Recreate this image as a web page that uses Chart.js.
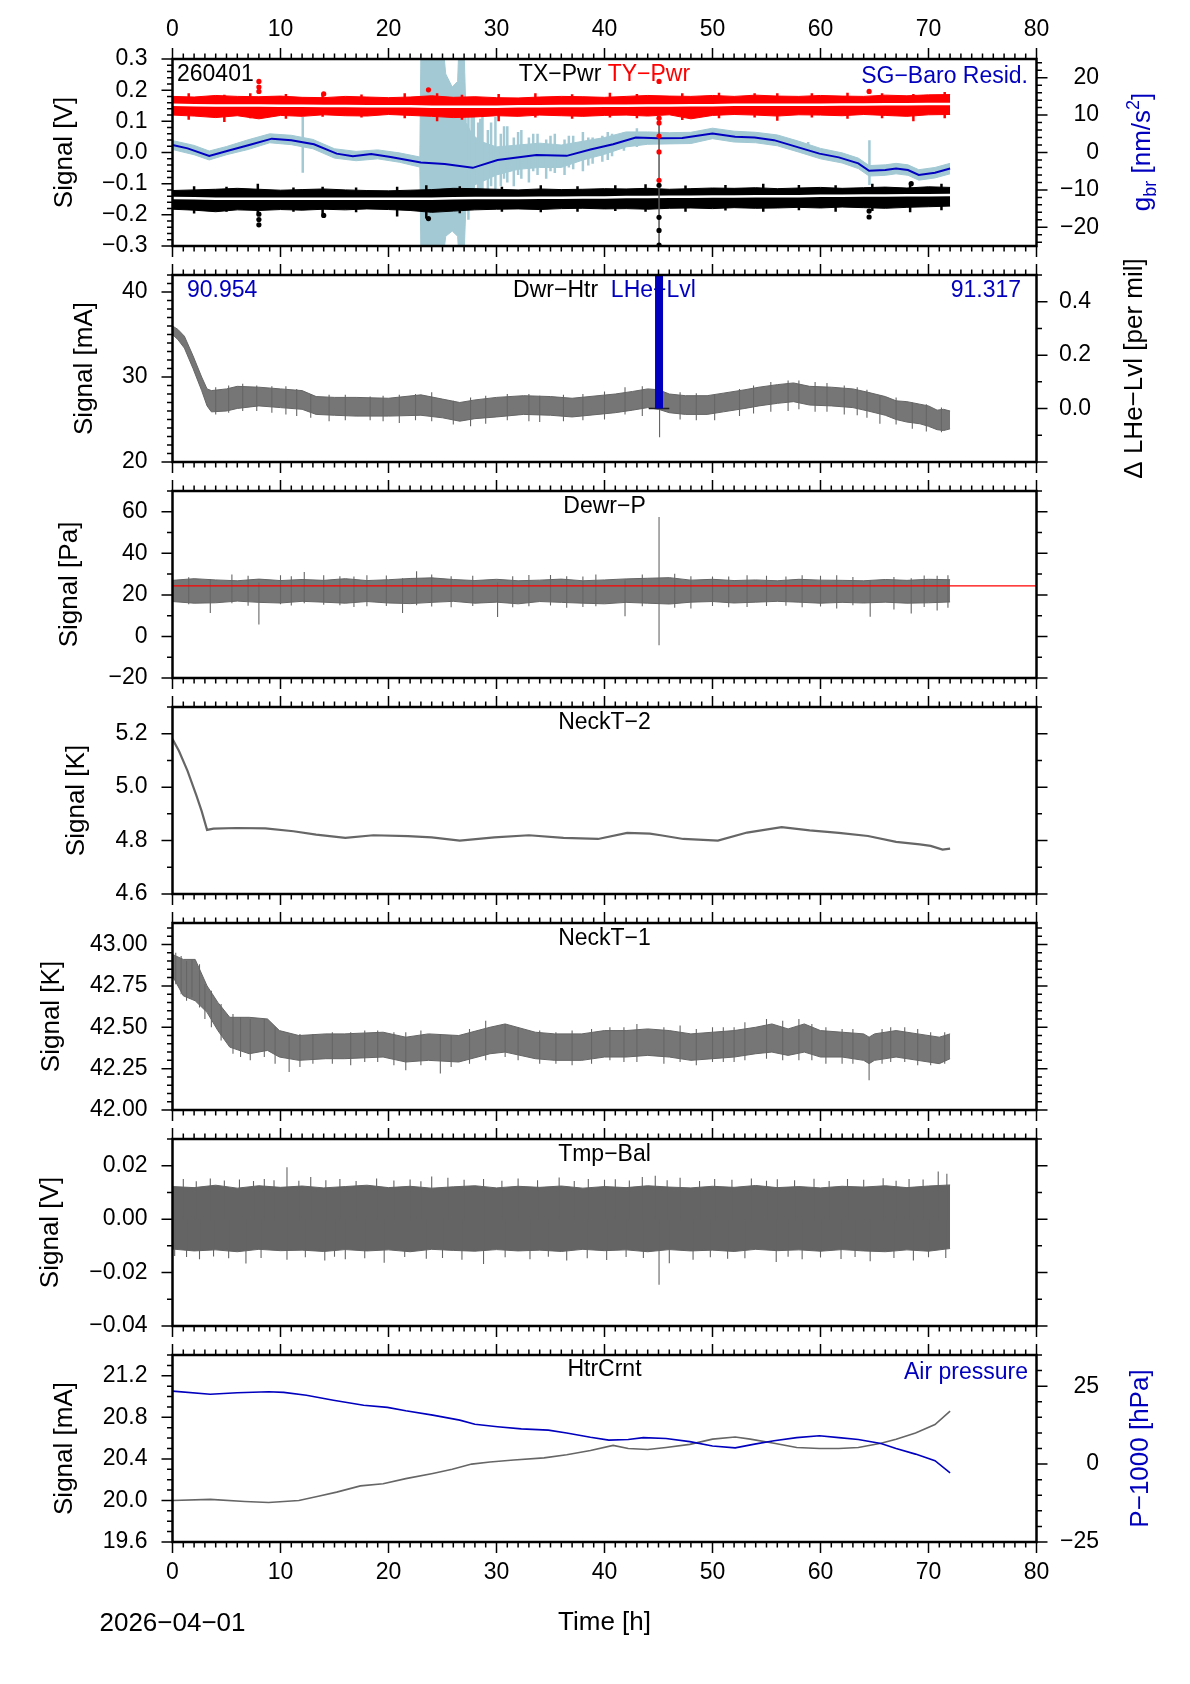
<!DOCTYPE html>
<html lang="en">
<head>
<meta charset="UTF-8">
<title>260401 sensor channels</title>
<script src="https://cdn.jsdelivr.net/npm/chart.js"></script>
<style>
  body { margin: 0; background: #fff; }
  #page { position: relative; width: 1190px; height: 1684px; background: #fff; }
  #page canvas { position: absolute; left: 0; }
</style>
</head>
<body>
<div id="page">
  <canvas id="p1" width="1190" height="286" style="top:0px"></canvas>
  <canvas id="p2" width="1190" height="267" style="top:235px"></canvas>
  <canvas id="p3" width="1190" height="267" style="top:451px"></canvas>
  <canvas id="p4" width="1190" height="267" style="top:667px"></canvas>
  <canvas id="p5" width="1190" height="267" style="top:883px"></canvas>
  <canvas id="p6" width="1190" height="267" style="top:1099px"></canvas>
  <canvas id="p7" width="1190" height="369" style="top:1315px"></canvas>
</div>
<script>
// ---- tick labels ----
const xTicks = [0, 10, 20, 30, 40, 50, 60, 70, 80];
const p1LeftTicks = [-0.3, -0.2, -0.1, 0, 0.1, 0.2, 0.3];
const p1RightTicks = [-20, -10, 0, 10, 20];
const p2LeftTicks = [20, 30, 40];
const p2RightTicks = [0, 0.2, 0.4];
const p3Ticks = [-20, 0, 20, 40, 60];
const p4Ticks = [4.6, 4.8, 5.0, 5.2];
const p5Ticks = [42.00, 42.25, 42.50, 42.75, 43.00];
const p6Ticks = [-0.04, -0.02, 0, 0.02];
const p7LeftTicks = [19.6, 20.0, 20.4, 20.8, 21.2];
const p7RightTicks = [-25, 0, 25];

// ---- panel 1: TX-Pwr / TY-Pwr [V], SG-Baro residual [nm/s2] ----
const p1T = [0,2,4,6,8,10,12,14,16,18,20,22,24,26,28,30,32,34,36,38,40,42,44,46,48,50,52,54,56,58,60,62,64,66,68,70,72];
const redHi = [0.180,0.178,0.183,0.180,0.179,0.181,0.177,0.176,0.180,0.178,0.176,0.178,0.182,0.177,0.179,0.176,0.175,0.178,0.180,0.179,0.177,0.180,0.183,0.181,0.180,0.183,0.180,0.184,0.181,0.180,0.183,0.181,0.180,0.184,0.182,0.185,0.186];
const redLo = [0.120,0.117,0.112,0.118,0.108,0.119,0.116,0.121,0.118,0.117,0.122,0.119,0.116,0.112,0.114,0.118,0.116,0.120,0.118,0.116,0.119,0.120,0.117,0.121,0.108,0.119,0.122,0.120,0.117,0.121,0.120,0.118,0.122,0.119,0.116,0.121,0.122];
const redMid = [0.153,0.152,0.151,0.151,0.151,0.150,0.150,0.149,0.149,0.148,0.148,0.148,0.147,0.147,0.147,0.147,0.148,0.148,0.149,0.149,0.150,0.150,0.151,0.151,0.152,0.152,0.153,0.153,0.153,0.153,0.153,0.154,0.154,0.155,0.155,0.156,0.156];
const blackHi = [-0.122,-0.120,-0.118,-0.115,-0.118,-0.121,-0.119,-0.117,-0.120,-0.122,-0.123,-0.121,-0.119,-0.115,-0.116,-0.118,-0.120,-0.117,-0.119,-0.118,-0.116,-0.117,-0.115,-0.118,-0.116,-0.114,-0.115,-0.113,-0.116,-0.114,-0.112,-0.115,-0.113,-0.111,-0.114,-0.110,-0.112];
const blackLo = [-0.182,-0.185,-0.190,-0.184,-0.186,-0.183,-0.185,-0.182,-0.184,-0.181,-0.183,-0.186,-0.192,-0.188,-0.184,-0.182,-0.181,-0.183,-0.180,-0.179,-0.181,-0.180,-0.182,-0.179,-0.178,-0.180,-0.177,-0.179,-0.178,-0.176,-0.178,-0.175,-0.177,-0.179,-0.176,-0.174,-0.172];
const blackMid = [-0.146,-0.147,-0.148,-0.148,-0.148,-0.148,-0.148,-0.148,-0.148,-0.148,-0.148,-0.148,-0.148,-0.147,-0.146,-0.146,-0.146,-0.145,-0.145,-0.144,-0.144,-0.143,-0.143,-0.142,-0.142,-0.141,-0.141,-0.140,-0.140,-0.140,-0.139,-0.139,-0.138,-0.138,-0.137,-0.137,-0.136];
const redSpikeT = [1.5,4.8,7.2,10.5,13.9,17.5,21.5,24.5,26.8,30.2,33.6,37.0,40.5,43.0,47.2,50.6,53.9,56.0,59.2,62.5,65.7,68.6,71.5];
const redSpikeLo = [0.105,0.098,0.110,0.108,0.115,0.112,0.110,0.100,0.105,0.100,0.112,0.108,0.112,0.110,0.104,0.110,0.112,0.102,0.112,0.108,0.110,0.100,0.110];
const redSpikeHi = [0.190,0.185,0.190,0.188,0.190,0.186,0.190,0.190,0.185,0.188,0.190,0.187,0.192,0.188,0.190,0.192,0.190,0.190,0.190,0.192,0.190,0.188,0.194];
const blackSpikeT = [2.0,5.0,7.9,11.2,13.9,17.0,20.8,23.5,26.6,30.5,34.1,37.5,41.0,43.8,47.5,51.2,54.7,58.0,61.4,64.8,68.3,71.2];
const blackSpikeLo = [-0.196,-0.190,-0.195,-0.190,-0.200,-0.192,-0.205,-0.212,-0.195,-0.190,-0.192,-0.190,-0.188,-0.190,-0.190,-0.186,-0.190,-0.185,-0.190,-0.188,-0.192,-0.185];
const blackSpikeHi = [-0.108,-0.110,-0.100,-0.112,-0.110,-0.112,-0.110,-0.105,-0.108,-0.110,-0.105,-0.108,-0.105,-0.102,-0.106,-0.104,-0.100,-0.104,-0.105,-0.100,-0.098,-0.100];
const redDotT = [8.0, 8.0, 8.0, 14.0, 23.7, 45.05, 45.05, 45.05, 45.05, 45.05, 45.05, 64.5];
const redDotV = [0.228, 0.210, 0.196, 0.188, 0.201, 0.228, 0.110, 0.095, 0.053, 0.002, -0.089, 0.196];
const blackDotT = [8.0, 8.0, 8.0, 14.0, 23.7, 45.05, 45.05, 45.05, 45.05, 64.5, 64.5, 68.4];
const blackDotV = [-0.198, -0.215, -0.232, -0.202, -0.212, -0.105, -0.208, -0.250, -0.297, -0.188, -0.207, -0.100];
const p1MarkT = [45.05];
const p1MarkLo = [-0.30];
const p1MarkHi = [0.115];
const sgT = [0,1.4,3.4,5.3,7.1,9.2,11,13.1,15.2,16.7,18.4,20.2,23,25.2,27.8,30.1,33.7,36.5,38.7,40.8,42.9,45,47.2,50,52.1,53.9,55.7,57.8,59.9,61.7,63.5,64.5,66,67,68.1,69.1,70.6,72];
const sgSmooth = [2.0,1.1,-0.9,0.6,2.0,3.7,3.3,2.2,-0.3,-1.0,-0.4,-1.2,-2.7,-3.1,-4.1,-2.0,-0.7,-0.9,0.8,2.2,4.0,3.8,3.9,5.1,4.2,4.0,3.3,1.5,-0.3,-1.3,-2.9,-4.9,-4.7,-4.3,-4.7,-6.0,-5.4,-4.3];
const sgRawT = [0,2,3.4,5,7,9,11,13,15,17,19,21,22.9,23.0,25.1,25.3,25.9,26.4,26.5,27.0,27.2,27.7,28.5,30,32,34,36,38,40,42,44,46,48,50,52,54,56,58,60,62,63.5,64.5,66,67,68.1,69.1,70.6,72];
const sgRawHi = [3.2,1.9,0.4,1.6,3.4,5.0,4.6,3.5,1.0,0.3,0.7,-0.1,-1.2,27,27,21,17.5,19,27,27,8,5,3,1.5,2,2.5,2,3,4,5.5,5.5,5.3,5.4,6.5,5.7,5.4,4.7,3.0,1.1,-0.1,-1.5,-3.5,-3.3,-2.9,-3.3,-4.6,-4.0,-2.9];
const sgRawLo = [0.8,-0.6,-2.0,-0.6,0.8,2.6,2.1,1.0,-1.5,-2.2,-1.7,-2.6,-3.9,-27,-27,-22.4,-21,-22.4,-27,-27,-12,-9,-8,-6,-4.5,-4,-4,-2,-0.5,1.5,2.2,2.3,2.4,3.7,2.8,2.6,1.8,0.1,-1.7,-2.8,-4.3,-6.3,-6.1,-5.7,-6.1,-7.4,-6.8,-5.7];
const sgSpikeT = [12.06,27.4,27.7,27.9,28.3,28.5,28.7,29.2,29.5,29.9,30.4,30.7,31.0,31.6,32.0,32.3,33.0,33.4,33.8,34.6,35.0,35.4,36.3,36.7,37.1,38.0,38.5,38.9,39.8,40.3,40.7,41.8,43.0,58.86,64.53];
const sgSpikeLo = [-5.4,-18,-15,-14,-13,-10,-12,-11,-9,-10,-9,-7,-8,-9,-6,-7,-8,-5,-6,-7,-5,-5.5,-6,-4,-4.5,-5,-3.5,-3,-2.5,-2,-1,0.5,1.5,-0.7,-8.7];
const sgSpikeHi = [9.5,12,10,14,8,9,10,6,8,9.5,5,7,7,4,5.5,6,4,5,5,3.5,4.5,5,3.5,4.5,4.5,5.5,4,4,4.5,5.5,5,5.5,6.5,2.8,3.3];

// ---- panel 2: Dwr-Htr [mA], LHe-Lvl [per mil] ----
const dwrT = [0,0.5,1.1,1.9,2.7,3.2,3.6,5,6,8,10,12,13.3,15,17,20,23,25,26.6,28,30,32.5,35,37,39.4,41,42.6,44,45,46,47.5,49.5,51,53,54.3,56,57.5,59,61,63,64.4,66,67,68,69.2,70,70.8,71.4,72];
const dwrHi = [36.0,35.6,34.8,32.5,30.0,28.6,28.4,28.6,28.9,28.8,28.6,28.4,27.7,27.6,27.6,27.5,27.9,27.4,27.0,27.3,27.6,27.8,27.7,27.5,27.8,28.0,28.3,28.6,28.5,28.0,27.8,27.8,28.1,28.5,28.8,29.1,29.3,28.9,28.8,28.6,28.2,27.7,27.2,27.1,26.8,26.6,26.1,26.2,26.0];
const dwrLo = [35.0,34.4,33.4,31.0,28.4,26.6,25.9,26.0,26.3,26.6,26.4,26.2,25.6,25.5,25.4,25.4,25.5,25.2,24.8,25.1,25.3,25.6,25.5,25.3,25.6,25.8,26.1,26.4,26.2,25.8,25.6,25.6,25.9,26.3,26.6,26.9,27.1,26.7,26.6,26.4,26.0,25.5,25.0,24.7,24.5,24.2,23.8,23.7,23.9];
const dwrSpikeT = [4.0,5.2,6.5,7.8,9.2,10.5,11.5,12.8,14.5,16.0,18.3,19.5,21.0,22.5,24.0,26.0,27.6,29.0,31.0,33.0,34.0,36.2,38.0,40.0,41.9,43.5,45.1,47.0,48.5,50.2,52.5,53.8,55.4,57.0,58.0,59.5,60.6,62.2,63.4,64.3,65.5,67.0,68.5,69.8,71.2];
const dwrSpikeLo = [25.6,25.8,26.0,26.0,25.8,25.6,25.4,25.2,24.8,24.9,24.9,24.8,24.6,24.9,24.8,24.4,24.2,24.5,24.9,24.8,24.7,24.8,24.9,25.0,25.6,25.4,22.9,25.0,24.9,24.9,25.4,25.7,25.9,26.0,26.2,25.9,25.9,25.6,25.5,25.2,24.5,24.4,23.9,23.6,23.5];
const dwrSpikeHi = [28.8,29.0,29.2,29.0,28.9,28.9,28.6,28.0,27.9,27.9,27.7,27.8,27.9,28.0,28.2,27.2,27.6,27.8,28.0,28.0,27.8,27.9,28.0,28.3,28.8,28.9,27.8,28.2,28.1,27.9,28.6,29.0,29.4,29.6,29.6,29.4,29.3,29.0,28.8,28.5,27.8,27.6,27.0,26.8,26.4];
const lheT = [45.05, 45.05];
const lheV = [0, 0.6];
const lheBaseT = [44.1, 46.0];
const lheBaseV = [0, 0];

// ---- panel 3: Dewr-P [Pa] ----
const dewrT = [0,2,4,6,8,10,12,14,16,18,20,22,24,26,28,30,32,34,36,38,40,42,44,46,48,50,52,54,56,58,60,62,64,66,68,70,72];
const dewrHi = [27.0,27.8,27.2,26.8,27.6,26.9,27.4,27.0,27.8,26.9,27.3,27.9,28.2,27.4,26.9,27.5,26.8,27.1,27.6,26.8,27.2,27.7,28.0,28.3,27.1,27.5,26.9,27.2,26.8,27.5,27.1,27.0,26.8,27.4,27.0,27.5,27.3];
const dewrLo = [16.8,16.0,16.2,17.0,16.4,16.1,16.9,16.5,16.0,16.8,16.1,15.8,16.4,16.9,16.0,16.5,15.7,16.8,16.4,16.0,15.7,16.4,16.0,15.6,16.5,16.8,16.1,16.5,16.9,16.5,16.0,16.4,16.1,16.5,16.0,16.2,16.6];
const dewrSpikeT = [1.5,3.5,5.5,7.0,8.0,10.0,11.0,12.2,14.0,15.5,16.8,18.0,19.8,21.3,22.6,24.0,25.8,27.8,30.1,31.5,33.0,35.0,36.5,38.0,39.2,41.9,43.5,45.05,46.5,48.0,50.0,51.5,53.2,55.0,56.8,58.3,60.0,61.5,63.0,64.6,66.8,68.4,69.6,70.8,71.8];
const dewrSpikeLo = [15.5,11.3,16.0,14.8,5.7,15.5,14.9,16.0,15.2,15.0,14.2,14.5,14.6,11.3,15.0,14.4,14.0,14.6,9.3,14.0,14.5,14.9,13.8,14.2,14.5,9.7,14.5,-4.2,13.8,13.5,14.6,14.0,14.2,14.6,14.8,14.0,14.4,13.5,15.0,9.5,13.0,11.0,14.2,12.5,13.8];
const dewrSpikeHi = [28.5,27.5,29.8,29.2,26.0,29.5,29.0,31.0,29.5,29.0,28.8,29.5,29.3,28.0,31.4,29.8,29.0,29.2,26.0,29.0,29.6,29.6,29.0,28.8,29.8,27.0,29.8,57.5,30.2,29.0,28.9,28.8,29.5,29.2,28.8,29.5,29.2,29.4,28.6,27.0,28.6,28.0,29.3,29.2,29.5];
const dewrRefT = [0, 80];
const dewrRefV = [24.3, 24.3];

// ---- panel 4: NeckT-2 [K] ----
const neckT2T = [0,0.6,1.4,2.2,2.7,3.2,3.8,5.9,8.6,11.2,13.3,16,18.6,21.8,24,26.6,29.8,33,36.2,39.4,42.1,44.2,45.2,47.3,50.5,53.2,56.4,59,61.7,64.4,67,69.2,70.2,71.3,72];
const neckT2V = [5.18,5.135,5.06,4.97,4.91,4.84,4.845,4.847,4.846,4.835,4.822,4.81,4.82,4.817,4.812,4.80,4.812,4.82,4.81,4.806,4.829,4.826,4.82,4.806,4.80,4.83,4.85,4.838,4.829,4.817,4.795,4.786,4.78,4.766,4.77];

// ---- panel 5: NeckT-1 [K] ----
const neckT1T = [0,1,2.1,3.2,4.2,5.3,7.1,8.8,9.9,11.7,14.2,15.9,19.5,21.6,23.7,26.5,29.4,30.8,33.6,35.4,37.9,40,42,44,46,48,50,52,54,55.5,57,58.5,60,62,64,64.5,65,67,69,71,72];
const neckT1Hi = [42.94,42.91,42.91,42.75,42.65,42.56,42.56,42.55,42.48,42.45,42.46,42.46,42.47,42.44,42.46,42.45,42.50,42.52,42.47,42.46,42.46,42.48,42.48,42.49,42.48,42.46,42.47,42.48,42.50,42.52,42.49,42.52,42.48,42.47,42.46,42.44,42.46,42.48,42.46,42.44,42.46];
const neckT1Lo = [42.81,42.69,42.66,42.59,42.48,42.38,42.34,42.36,42.32,42.30,42.31,42.31,42.32,42.29,42.30,42.29,42.34,42.35,42.31,42.30,42.30,42.32,42.32,42.33,42.32,42.30,42.31,42.32,42.34,42.35,42.33,42.35,42.32,42.32,42.30,42.28,42.30,42.32,42.30,42.28,42.31];
const neckT1SpikeT = [0.3,0.8,1.3,1.8,2.5,3.0,3.6,4.5,5.6,6.3,7.2,8.5,9.5,10.8,11.8,13.0,14.8,16.5,17.8,19.0,20.5,21.6,23.0,24.8,25.8,27.5,29.0,30.8,32.0,34.0,35.5,37.0,38.8,40.5,41.8,43.0,45.5,47.0,48.5,50.0,51.0,52.0,53.0,55.0,56.5,58.0,59.2,60.5,62.0,63.0,64.5,65.7,66.5,67.8,69.0,70.2,71.5];
const neckT1SpikeLo = [42.76,42.70,42.66,42.68,42.62,42.55,42.50,42.42,42.34,42.32,42.30,42.32,42.28,42.23,42.26,42.28,42.28,42.27,42.29,42.29,42.27,42.24,42.27,42.22,42.26,42.28,42.30,42.32,42.30,42.28,42.28,42.27,42.28,42.30,42.29,42.29,42.28,42.29,42.27,42.29,42.29,42.29,42.30,42.31,42.30,42.30,42.30,42.28,42.28,42.28,42.18,42.28,42.29,42.29,42.27,42.27,42.28];
const neckT1SpikeHi = [42.95,42.93,42.90,42.91,42.88,42.76,42.72,42.64,42.58,42.56,42.55,42.55,42.50,42.45,42.46,42.46,42.47,42.47,42.48,42.48,42.47,42.47,42.48,42.46,42.45,42.49,42.54,42.52,42.50,42.48,42.47,42.48,42.49,42.50,42.50,42.52,42.50,42.51,42.49,42.50,42.50,42.50,42.53,42.55,42.54,42.55,42.52,42.50,42.49,42.49,42.44,42.49,42.50,42.50,42.49,42.47,42.47];

// ---- panel 6: Tmp-Bal [V] ----
const tmpT = [0,2,4,6,8,10,12,14,16,18,20,22,24,26,28,30,32,34,36,38,40,42,44,46,48,50,52,54,56,58,60,62,64,66,68,70,72];
const tmpHi = [0.0122,0.0118,0.0127,0.0116,0.0125,0.0119,0.0124,0.0117,0.0122,0.0127,0.0118,0.0123,0.0116,0.0121,0.0125,0.0117,0.0123,0.0119,0.0124,0.0116,0.0122,0.0118,0.0125,0.0120,0.0117,0.0123,0.0119,0.0126,0.0118,0.0122,0.0117,0.0123,0.0120,0.0125,0.0118,0.0124,0.0128];
const tmpLo = [-0.0112,-0.0119,-0.0115,-0.0122,-0.0113,-0.0118,-0.0116,-0.0121,-0.0114,-0.0119,-0.0115,-0.0122,-0.0113,-0.0117,-0.0120,-0.0114,-0.0119,-0.0116,-0.0121,-0.0113,-0.0118,-0.0115,-0.0122,-0.0114,-0.0119,-0.0116,-0.0121,-0.0113,-0.0118,-0.0115,-0.0120,-0.0114,-0.0119,-0.0122,-0.0115,-0.0120,-0.0110];
const tmpUpT = [1.0,2.2,3.5,4.8,6.2,7.5,8.5,9.4,10.6,11.7,12.8,14.2,15.5,17.0,18.9,20.5,22.0,23.0,24.0,25.5,27.0,28.8,30.5,32.0,33.8,35.8,37.2,38.5,40.0,41.0,42.3,43.5,44.7,45.8,47.0,48.8,50.2,51.8,53.6,55.0,56.0,57.6,59.4,60.8,62.5,64.0,65.8,67.0,68.2,69.5,70.9,71.7];
const tmpUpV = [0.0150,0.0142,0.0152,0.0145,0.0148,0.0143,0.0150,0.0146,0.0194,0.0144,0.0158,0.0146,0.0150,0.0143,0.0152,0.0145,0.0148,0.0142,0.0160,0.0155,0.0147,0.0150,0.0144,0.0152,0.0146,0.0156,0.0143,0.0150,0.0147,0.0149,0.0145,0.0158,0.0162,0.0146,0.0155,0.0143,0.0150,0.0147,0.0152,0.0144,0.0149,0.0146,0.0151,0.0143,0.0150,0.0147,0.0153,0.0144,0.0150,0.0148,0.0178,0.0170];
const tmpDnT = [0.2,1.3,2.5,3.8,5.2,6.8,8.2,10.6,12.3,14.1,15.0,16.0,17.8,19.6,21.5,23.5,25.0,26.8,28.8,30.8,33.1,34.8,36.5,38.4,40.2,42.0,43.6,45.05,46.0,48.2,49.8,51.4,53.0,55.9,57.0,58.3,60.0,61.9,63.2,64.6,66.8,68.6,70.0,71.6];
const tmpDnV = [-0.0138,-0.0142,-0.0150,-0.0140,-0.0146,-0.0166,-0.0145,-0.0152,-0.0143,-0.0155,-0.0141,-0.0150,-0.0146,-0.0163,-0.0142,-0.0148,-0.0145,-0.0152,-0.0168,-0.0143,-0.0150,-0.0141,-0.0155,-0.0146,-0.0153,-0.0142,-0.0145,-0.0246,-0.0165,-0.0152,-0.0143,-0.0148,-0.0146,-0.0160,-0.0141,-0.0150,-0.0144,-0.0149,-0.0142,-0.0158,-0.0145,-0.0155,-0.0143,-0.0145];

// ---- panel 7: HtrCrnt [mA], air pressure P-1000 [hPa] ----
const htrT = [0,3.5,6.7,8.9,11.7,13.5,15.2,17.4,19.5,21.6,24.1,25.9,27.7,29.4,31.6,34.4,36.5,38.7,40.8,42.2,44,45.7,47.9,50,52.1,53.5,55.7,57.8,59.9,61.7,63.5,65.6,67,68.8,70.6,72];
const htrV = [20.0,20.01,19.99,19.98,20.0,20.04,20.08,20.14,20.16,20.21,20.26,20.30,20.35,20.37,20.39,20.41,20.44,20.48,20.53,20.50,20.49,20.51,20.54,20.59,20.61,20.59,20.55,20.51,20.50,20.50,20.51,20.55,20.59,20.65,20.73,20.86];
const airT = [0,3.5,6,8.9,10.3,12.4,14.9,17.7,19.9,21.6,24.1,26.6,28,30.1,32.3,34.8,36.5,38.7,40.4,42.2,43.6,45.7,47.9,50,52.1,53.9,55.7,57.8,59.9,61.7,63.5,65.6,67,68.8,70.6,72];
const airV = [23.4,22.4,22.9,23.2,23.0,22.1,20.5,18.9,18.2,17.1,15.7,14.1,12.8,12.0,11.3,10.9,10.0,8.6,7.7,7.9,8.5,8.2,7.2,5.8,5.2,6.4,7.5,8.5,9.1,8.5,7.9,6.6,5.0,3.2,1.1,-2.8];

// ---- styling ----
const FONT = '"Liberation Sans", Arial, Helvetica, sans-serif';
const GRAY = '#666666', BANDFILL = '#767676', BLUE = '#0000be', LBLUE = '#a2c9d4', RED = '#ff0000';
Chart.defaults.font.family = FONT;
Chart.defaults.color = '#000';

const fmt = d => v => (Math.abs(v) < 1e-9 ? 0 : v).toFixed(d).replace('-', '\u2212');
const pts = (t, v) => t.map((x, i) => ({x, y: v[i]}));
function segs(t, lo, hi) {
  const out = [];
  t.forEach((x, i) => out.push({x, y: lo[i]}, {x, y: hi[i]}, {x, y: null}));
  return out;
}
function line(data, color, width, extra) {
  return Object.assign({type: 'line', data, borderColor: color, borderWidth: width, pointRadius: 0,
    tension: 0, fill: false, spanGaps: false, clip: 0}, extra);
}
function band(lo, hi, edge, fillCol, order, axis) {
  const y = axis || 'y';
  return [line(lo, edge, 1, {order, yAxisID: y}),
          line(hi, edge, 1, {order, yAxisID: y, fill: '-1', backgroundColor: fillCol})];
}
function dots(data, color, order) {
  return {type: 'line', data, showLine: false, pointRadius: 2.6, pointBackgroundColor: color,
    pointBorderWidth: 0, order, clip: 0};
}

// frame, ticks (major + minor) and in-panel labels
const deco = {};
function eachTick(min, max, minor, major, cb) {
  const k0 = Math.ceil(min / minor - 1e-6), k1 = Math.floor(max / minor + 1e-6);
  for (let k = k0; k <= k1; k++) {
    const v = k * minor, q = v / major;
    cb(v, Math.abs(q - Math.round(q)) < 1e-6);
  }
}
function vText(ctx, parts, color, bx, cy) {
  ctx.save();
  ctx.translate(bx, cy);
  ctx.rotate(-Math.PI / 2);
  ctx.textBaseline = 'alphabetic';
  ctx.textAlign = 'left';
  const w = parts.map(p => { ctx.font = p.s + 'px ' + FONT; return ctx.measureText(p.t).width; });
  let x = -w.reduce((s, v) => s + v, 0) / 2;
  ctx.fillStyle = color;
  parts.forEach((p, i) => { ctx.font = p.s + 'px ' + FONT; ctx.fillText(p.t, x, p.dy || 0); x += w[i]; });
  ctx.restore();
}
const panelDeco = {
  id: 'panelDeco',
  beforeDatasetsDraw(chart) {
    const o = deco[chart.canvas.id], {ctx, chartArea: a} = chart;
    ctx.save();
    ctx.font = '23px ' + FONT;
    ctx.textBaseline = 'middle';
    ctx.textAlign = 'left';
    (o.labels || []).forEach(l => {
      const w = l.parts.map(p => ctx.measureText(p[0]).width);
      const total = w.reduce((s, v) => s + v, 0);
      let x = l.x === 'c' ? (a.left + a.right - total) / 2 : (l.align === 'right' ? l.x - total : l.x);
      l.parts.forEach((p, i) => { ctx.fillStyle = p[1]; ctx.fillText(p[0], x, a.top + l.dy); x += w[i]; });
    });
    ctx.restore();
  },
  afterDatasetsDraw(chart) {
    const o = deco[chart.canvas.id], {ctx, chartArea: a, scales} = chart;
    ctx.save();
    ctx.strokeStyle = '#000';
    ctx.lineWidth = 1.5;
    ctx.beginPath();
    eachTick(0, 80, 1, 10, (v, major) => {
      const px = scales.x.getPixelForValue(v), L = major ? 11 : 5.5;
      ctx.moveTo(px, a.top); ctx.lineTo(px, a.top - L);
      ctx.moveTo(px, a.bottom); ctx.lineTo(px, a.bottom + L);
    });
    const yl = scales.y;
    eachTick(yl.min, yl.max, o.left.minor, o.left.major, (v, major) => {
      const py = yl.getPixelForValue(v);
      ctx.moveTo(a.left, py); ctx.lineTo(a.left - (major ? 11 : 5.5), py);
    });
    const yr = scales.y2 || yl, r = scales.y2 ? o.right : o.left;
    eachTick(yr.min, yr.max, r.minor, r.major, (v, major) => {
      const py = yr.getPixelForValue(v);
      ctx.moveTo(a.right, py); ctx.lineTo(a.right + (major ? 11 : 5.5), py);
    });
    ctx.stroke();
    ctx.lineWidth = 2.5;
    ctx.strokeRect(a.left, a.top, a.right - a.left, a.bottom - a.top);
    if (o.vtitle) vText(ctx, o.vtitle.parts, o.vtitle.color, o.vtitle.bx, o.vtitle.cy);
    (o.extra || []).forEach(e => {
      ctx.font = e.s + 'px ' + FONT;
      ctx.fillStyle = '#000';
      ctx.textAlign = 'center';
      ctx.textBaseline = 'middle';
      ctx.fillText(e.t, e.x, e.y);
    });
    ctx.restore();
  }
};

function yScale(pos, a) {
  return {
    type: 'linear', position: pos, min: a.min, max: a.max,
    grid: {display: false, drawTicks: false}, border: {display: false},
    afterBuildTicks: s => { s.ticks = a.ticks.map(value => ({value})); },
    ticks: {font: {size: 23}, padding: a.pad, autoSkip: false,
      crossAlign: pos === 'right' ? 'far' : 'near', callback: fmt(a.dec)},
    title: a.title ? {display: true, text: a.title, font: {size: 26}, padding: {top: a.titlePad, bottom: 0}}
                   : {display: false},
    afterFit: s => { s.width = a.width; }
  };
}
function makePanel(id, cfg) {
  deco[id] = {labels: cfg.labels, left: cfg.yl, right: cfg.yr, vtitle: cfg.vtitle, extra: cfg.extra};
  const scales = {
    x: {
      type: 'linear', min: 0, max: 80, position: cfg.xPos || 'bottom', display: !!cfg.xPos,
      grid: {display: false, drawTicks: false}, border: {display: false},
      afterBuildTicks: s => { s.ticks = xTicks.map(value => ({value})); },
      ticks: {font: {size: 23}, padding: cfg.xPad || 0, maxRotation: 0, autoSkip: false},
      title: cfg.xTitle || {display: false},
      afterFit: s => { if (cfg.xHeight) s.height = cfg.xHeight; }
    },
    y: yScale('left', cfg.yl)
  };
  if (cfg.yr) scales.y2 = yScale('right', cfg.yr);
  return new Chart(document.getElementById(id), {
    type: 'line',
    data: {datasets: cfg.datasets},
    options: {
      responsive: false, animation: false, devicePixelRatio: 1,
      layout: {padding: {left: 0, right: cfg.padRight, top: cfg.padTop, bottom: cfg.padBottom}},
      plugins: {legend: {display: false}, tooltip: {enabled: false}},
      scales
    },
    plugins: [panelDeco]
  });
}

// ---- panels ----
makePanel('p1', {
  xPos: 'top', xPad: 16, xHeight: 59, padTop: 0, padBottom: 40, padRight: 91,
  yl: {min: -0.3, max: 0.3, ticks: p1LeftTicks, dec: 1, pad: 25, width: 172.5, title: 'Signal [V]', titlePad: 49, major: 0.1, minor: 0.02},
  yr: {min: -25, max: 25, ticks: p1RightTicks, dec: 0, pad: 23.5, width: 62.5, major: 10, minor: 2},
  labels: [
    {x: 177, dy: 16, parts: [['260401', '#000']]},
    {x: 'c', dy: 16, parts: [['TX\u2212Pwr', '#000'], [' TY\u2212Pwr', RED]]},
    {x: 1028, dy: 18, align: 'right', parts: [['SG\u2212Baro Resid.', BLUE]]}
  ],
  vtitle: {color: BLUE, bx: 1150, cy: 152, parts: [
    {t: 'g', s: 26}, {t: 'br', s: 18, dy: 6}, {t: ' [nm/s', s: 26}, {t: '2', s: 18, dy: -11}, {t: ']', s: 26}]},
  datasets: [
    dots(pts(redDotT, redDotV), RED, 0),
    dots(pts(blackDotT, blackDotV), '#000', 0),
    line(segs(p1MarkT, p1MarkLo, p1MarkHi), '#555', 1.5, {order: 1}),
    line(pts(p1T, redMid), '#fff', 2.5, {order: 2}),
    line(pts(p1T, blackMid), '#fff', 2.5, {order: 2}),
    line(segs(redSpikeT, redSpikeLo, redSpikeHi), RED, 2.5, {order: 3}),
    line(segs(blackSpikeT, blackSpikeLo, blackSpikeHi), '#000', 2.5, {order: 3}),
    ...band(pts(p1T, redLo), pts(p1T, redHi), RED, RED, 3),
    ...band(pts(p1T, blackLo), pts(p1T, blackHi), '#000', '#000', 3),
    line(pts(sgT, sgSmooth), BLUE, 2, {order: 4, yAxisID: 'y2'}),
    line(segs(sgSpikeT, sgSpikeLo, sgSpikeHi), LBLUE, 2.5, {order: 5, yAxisID: 'y2'}),
    ...band(pts(sgRawT, sgRawLo), pts(sgRawT, sgRawHi), LBLUE, LBLUE, 6, 'y2')
  ]
});

makePanel('p2', {
  padTop: 40, padBottom: 40, padRight: 99,
  yl: {min: 20, max: 42, ticks: p2LeftTicks, dec: 0, pad: 25, width: 172.5, title: 'Signal [mA]', titlePad: 69, major: 10, minor: 1},
  yr: {min: -0.2, max: 0.5, ticks: p2RightTicks, dec: 1, pad: 22.5, width: 54.5, major: 0.2, minor: 0.1},
  labels: [
    {x: 187, dy: 16, parts: [['90.954', BLUE]]},
    {x: 'c', dy: 16, parts: [['Dwr\u2212Htr', '#000'], ['  LHe\u2212Lvl', BLUE]]},
    {x: 1021, dy: 16, align: 'right', parts: [['91.317', BLUE]]}
  ],
  vtitle: {color: '#000', bx: 1142, cy: 133.5, parts: [{t: '\u0394 LHe\u2212Lvl [per mil]', s: 26}]},
  datasets: [
    line(pts(lheT, lheV), BLUE, 8, {order: 0, yAxisID: 'y2', borderCapStyle: 'butt'}),
    line(pts(lheBaseT, lheBaseV), '#222', 1.5, {order: 0, yAxisID: 'y2'}),
    line(segs(dwrSpikeT, dwrSpikeLo, dwrSpikeHi), GRAY, 1.1, {order: 1}),
    ...band(pts(dwrT, dwrLo), pts(dwrT, dwrHi), GRAY, BANDFILL, 2)
  ]
});

makePanel('p3', {
  padTop: 40, padBottom: 40, padRight: 153.5,
  yl: {min: -20, max: 70, ticks: p3Ticks, dec: 0, pad: 25, width: 172.5, title: 'Signal [Pa]', titlePad: 54, major: 20, minor: 10},
  labels: [{x: 'c', dy: 16, parts: [['Dewr\u2212P', '#000']]}],
  datasets: [
    line(pts(dewrRefT, dewrRefV), RED, 1.3, {order: 0}),
    line(segs(dewrSpikeT, dewrSpikeLo, dewrSpikeHi), GRAY, 1.1, {order: 1}),
    ...band(pts(dewrT, dewrLo), pts(dewrT, dewrHi), GRAY, BANDFILL, 2)
  ]
});

makePanel('p4', {
  padTop: 40, padBottom: 40, padRight: 153.5,
  yl: {min: 4.6, max: 5.3, ticks: p4Ticks, dec: 1, pad: 25, width: 172.5, title: 'Signal [K]', titlePad: 61, major: 0.2, minor: 0.1},
  labels: [{x: 'c', dy: 16, parts: [['NeckT\u22122', '#000']]}],
  datasets: [line(pts(neckT2T, neckT2V), GRAY, 2.2, {order: 0})]
});

makePanel('p5', {
  padTop: 40, padBottom: 40, padRight: 153.5,
  yl: {min: 42.0, max: 43.13, ticks: p5Ticks, dec: 2, pad: 25, width: 172.5, title: 'Signal [K]', titlePad: 36.5, major: 0.25, minor: 0.05},
  labels: [{x: 'c', dy: 16, parts: [['NeckT\u22121', '#000']]}],
  datasets: [
    line(segs(neckT1SpikeT, neckT1SpikeLo, neckT1SpikeHi), GRAY, 1.1, {order: 0}),
    ...band(pts(neckT1T, neckT1Lo), pts(neckT1T, neckT1Hi), GRAY, BANDFILL, 1)
  ]
});

makePanel('p6', {
  padTop: 40, padBottom: 40, padRight: 153.5,
  yl: {min: -0.04, max: 0.03, ticks: p6Ticks, dec: 2, pad: 25, width: 172.5, title: 'Signal [V]', titlePad: 35, major: 0.02, minor: 0.01},
  labels: [{x: 'c', dy: 16, parts: [['Tmp\u2212Bal', '#000']]}],
  datasets: [
    line(segs(tmpUpT, tmpUpT.map(() => 0), tmpUpV), '#646464', 1.1, {order: 0}),
    line(segs(tmpDnT, tmpDnT.map(() => 0), tmpDnV), '#646464', 1.1, {order: 0}),
    ...band(pts(tmpT, tmpLo), pts(tmpT, tmpHi), '#646464', '#646464', 1)
  ]
});

makePanel('p7', {
  xPos: 'bottom', xPad: 17, xHeight: 142, padTop: 40, padBottom: 0, padRight: 91,
  xTitle: {display: true, text: 'Time [h]', font: {size: 26}, padding: {top: 0, bottom: 46}},
  yl: {min: 19.6, max: 21.4, ticks: p7LeftTicks, dec: 1, pad: 25, width: 172.5, title: 'Signal [mA]', titlePad: 49, major: 0.4, minor: 0.1},
  yr: {min: -25, max: 35, ticks: p7RightTicks, dec: 0, pad: 23.5, width: 62.5, major: 25, minor: 5},
  labels: [
    {x: 'c', dy: 15, parts: [['HtrCrnt', '#000']]},
    {x: 1028, dy: 18, align: 'right', parts: [['Air pressure', BLUE]]}
  ],
  vtitle: {color: BLUE, bx: 1148, cy: 133.5, parts: [{t: 'P\u22121000 [hPa]', s: 26}]},
  extra: [{t: '2026\u221204\u221201', s: 26, x: 172.5, y: 309}],
  datasets: [
    line(pts(airT, airV), BLUE, 1.6, {order: 0, yAxisID: 'y2'}),
    line(pts(htrT, htrV), GRAY, 1.6, {order: 1})
  ]
});
</script>
</body>
</html>
